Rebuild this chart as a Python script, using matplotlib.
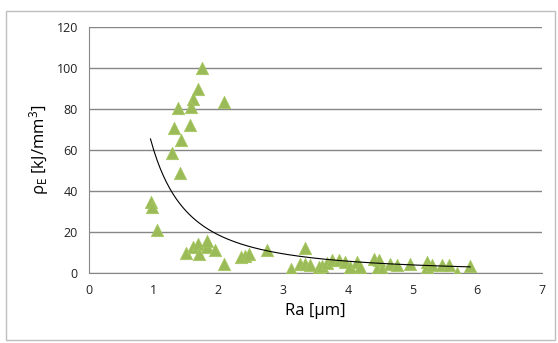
import numpy as np
import matplotlib.pyplot as plt
from matplotlib.patches import Rectangle

# roughness Ra [um] and specific energy rho_E [kJ/mm3]
ra = [1.74, 1.69, 1.61, 1.57, 1.37, 2.08, 1.31, 1.56, 1.42, 1.29, 1.40,
      0.96, 0.98, 1.05, 1.50, 1.61, 1.69, 1.70, 1.82, 1.83, 1.94, 2.08,
      2.35, 2.41, 2.47, 2.75, 3.34, 3.12, 3.26, 3.34, 3.42, 3.55, 3.60,
      3.68, 3.75, 3.86, 3.96, 4.04, 4.14, 4.19, 4.40, 4.48, 4.45, 4.53,
      4.65, 4.76, 4.96, 5.22, 5.22, 5.30, 5.45, 5.57, 5.68, 5.89]
rho = [100.0, 89.7, 84.8, 81.2, 80.4, 83.3, 70.6, 72.2, 64.9, 58.7, 48.9,
       34.7, 32.0, 20.9, 9.8, 12.7, 14.4, 9.5, 12.7, 15.7, 11.1, 4.6,
       7.8, 8.5, 9.5, 11.4, 12.2, 2.1, 4.3, 4.3, 3.8, 2.9, 3.2,
       4.9, 6.2, 6.2, 5.5, 2.9, 5.5, 2.9, 7.0, 6.5, 2.1, 2.1,
       4.6, 3.8, 4.6, 5.5, 2.9, 3.8, 3.8, 3.8, 0.0, 3.4]

# power trendline rho = a * Ra^b
fit_a = 60.0
fit_b = -1.69
fit_range = (0.95, 5.89)

xticks = [0, 1, 2, 3, 4, 5, 6, 7]
yticks = [0, 20, 40, 60, 80, 100, 120]

plt.rcParams['font.family'] = ['Open Sans', 'DejaVu Sans']
plt.rcParams['mathtext.default'] = 'regular'

fig = plt.figure(figsize=(5.58, 3.43), dpi=100)
ax = fig.add_axes([0.1595, 0.204, 0.8118, 0.717])

# chart border
fig.patches.append(Rectangle((0.011, 0.008), 0.984, 0.96, transform=fig.transFigure,
                             fill=False, edgecolor='#bfbfbf', linewidth=1))

ax.scatter(ra, rho, marker='^', s=80, color='#9bbb59', edgecolors='#a6c95f',
           linewidths=0.5, zorder=3)

xf = np.linspace(fit_range[0], fit_range[1], 200)
ax.plot(xf, fit_a * xf ** fit_b, color='black', linewidth=0.8, zorder=4)

ax.set_xlim(0, 7)
ax.set_ylim(0, 120)
ax.set_xticks(xticks)
ax.set_yticks(yticks)
ax.yaxis.grid(True, color='#868686', linewidth=1)
ax.set_axisbelow(True)
ax.tick_params(length=0, labelsize=9, pad=8, colors='#222222')
for s in ['top', 'right']:
    ax.spines[s].set_visible(False)
for s in ['left', 'bottom']:
    ax.spines[s].set_color('#868686')

ax.set_xlabel('Ra [µm]', fontsize=12, labelpad=4)
ax.set_ylabel(r'$\rho_{E}$ [kJ/mm$^{3}$]', fontsize=12, labelpad=4)

fig.savefig('out.png', dpi=100)
